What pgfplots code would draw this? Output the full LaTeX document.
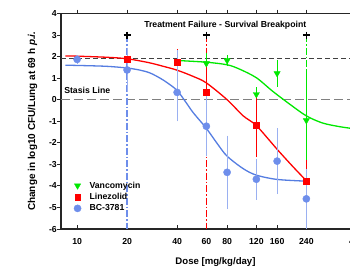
\documentclass[border=0pt]{standalone}
\usepackage{pgfplots}
\pgfplotsset{compat=1.18}
\usepackage{fontspec}
\setmainfont{Liberation Sans}
\definecolor{bcblue}{RGB}{110,142,235}
\definecolor{bcline}{RGB}{85,125,225}
\definecolor{lzred}{RGB}{255,0,0}
\definecolor{vgreen}{RGB}{0,232,0}
\newcommand{\tf}{\bfseries\fontsize{8.7}{10}\selectfont}
\begin{document}
\begin{tikzpicture}
% frame axis: outside ticks on left and top
\begin{axis}[xmode=log, scale only axis, width=309pt, height=215.5pt,
  at={(0,0)}, anchor=south west,
  xmin=8, xmax=580, ymin=-6, ymax=4,
  axis line style={line width=1.1pt, black!85},
  major tick style={line width=0.9pt, black!85},
  major tick length=4pt,
  xtick={10,20,40,60,80,120,160,240,480},
  ytick={-6,-5,-4,-3,-2,-1,0,1,2,3,4},
  tick label style={font=\tf},
  clip=false,
  tick align=outside, xtick pos=top, ytick pos=left,
  xticklabels={},
  yticklabels={-6,-5,-4,-3,-2,-1,0,1,2,3,4},
  yticklabel style={anchor=east, inner sep=0pt},
  ylabel={\bfseries\fontsize{10}{12}\selectfont Change in log10 CFU/Lung at 69 h \textit{p.i.}},
  ylabel style={at={(axis description cs:-0.0922,0.5)}, anchor=center},
]
\addplot[draw=none] coordinates {(10,0)};
\end{axis}
\begin{axis}[xmode=log, scale only axis, width=309pt, height=215.5pt,
  at={(0,0)}, anchor=south west,
  xmin=8, xmax=580, ymin=-6, ymax=4,
  axis line style={line width=1.1pt, black!85},
  major tick style={line width=0.9pt, black!85},
  major tick length=4pt,
  xtick={10,20,40,60,80,120,160,240,480},
  tick label style={font=\tf},
  clip=false,
  tick align=inside, xtick pos=bottom, ytick=\empty,
  xticklabels={10,20,40,60,80,120,160,240,480},
  xticklabel style={anchor=base, yshift=-15pt, inner sep=0pt},
  xlabel={\bfseries\fontsize{9.6}{11}\selectfont Dose [mg/kg/day]},
  xlabel style={at={(axis description cs:0.5,-0.1624)}, anchor=base},
  legend style={draw=none, fill=none, font=\tf, at={(axis description cs:0.04,0.227)}, anchor=north west, inner sep=0pt, row sep=0.6pt, nodes={inner sep=1.5pt}},
  legend cell align=left,
  legend image code/.code={\path[draw=none, fill=none] (-4pt,-3pt) (10.5pt,3pt); \draw[#1] plot coordinates {(0pt,0pt)};},
  error bars/error bar style={line width=0.9pt},
]
% reference lines
\addplot[forget plot, black!75, line width=0.9pt, dash pattern=on 5pt off 3pt] coordinates {(8,1.9) (580,1.9)};
\addplot[forget plot, black!50, line width=0.9pt, dash pattern=on 9pt off 4pt] coordinates {(8,0) (580,0)};
% breakpoint lines
\addplot[forget plot, bcblue, line width=1.2pt, dash pattern=on 7pt off 2pt on 1.5pt off 2pt] coordinates {(20,3) (20,-6)};
\addplot[forget plot, lzred, line width=1.2pt, dash pattern=on 7pt off 2pt on 1.5pt off 2pt] coordinates {(60,3) (60,-6)};
\addplot[forget plot, vgreen, line width=1.2pt, dash pattern=on 7pt off 2pt on 1.5pt off 2pt] coordinates {(240,3) (240,-6)};
\addplot[forget plot, only marks, mark=+, black, mark size=3.5pt, line width=1.4pt] coordinates {(20,3) (60,3) (240,3)};
% fitted curves
\addplot[forget plot, smooth, bcline, line width=1.3pt] coordinates {
(8.5,1.6) (10,1.59) (15,1.55) (20,1.47) (24,1.37) (27.5,1.24) (31.6,1.0) (35,0.78) (40,0.43) (45,-0.1) (50,-0.6) (60,-1.33) (70,-2.05) (80,-2.62) (100,-3.2) (120,-3.5) (160,-3.7) (240,-3.78)};
\addplot[forget plot, smooth, lzred, line width=1.3pt] coordinates {
(8.5,2.03) (10,2.02) (15,1.97) (20,1.9) (27,1.72) (33,1.55) (40,1.37) (50,1.08) (60,0.78) (80,0.0) (100,-0.75) (120,-1.2) (160,-2.3) (200,-3.12) (240,-3.76)};
\addplot[forget plot, smooth, vgreen, line width=1.3pt] coordinates {
(40,1.82) (60,1.74) (80,1.62) (95,1.42) (120,1.02) (150,0.4) (190,-0.2) (240,-0.75) (300,-1.08) (380,-1.25) (480,-1.36) (580,-1.42)};
% data
\addplot[only marks, mark=triangle*, mark options={rotate=180, fill=vgreen, draw=vgreen}, mark size=3.6pt, vgreen,
  error bars/.cd, y dir=both, y explicit, error mark options={vgreen, mark size=4pt, line width=0.9pt}]
 coordinates {(60,1.68) +- (0,0.32) (80,1.82) +- (0,0.05) (120,0.25) +- (0,0.15) (160,1.22) +- (0,0.44) (240,-0.96) +- (0,2.2)};
\addlegendentry{Vancomycin}
\addplot[only marks, mark=square*, mark size=2.8pt, lzred,
  error bars/.cd, y dir=both, y explicit, error mark options={lzred, mark size=4pt, line width=0.9pt}]
 coordinates {(20,1.87) +- (0,0.05) (40,1.73) +- (0,0.42) (60,0.36) +- (0,1.2) (120,-1.19) +- (0,1.29) (240,-3.78) +- (0,0.78)};
\addlegendentry{Linezolid}
\addplot[only marks, mark=*, mark size=3.6pt, bcblue,
  error bars/.cd, y dir=both, y explicit, error bar style={bcblue!70}, error mark options={bcblue!70, mark size=4pt, line width=0.9pt}]
 coordinates {(10,1.87) +- (0,0.02) (20,1.38) +- (0,0.82) (40,0.34) += (0,1.78) -= (0,1.16) (60,-1.23) +- (0,1.2) (80,-3.37) +- (0,1.52) (120,-3.69) +- (0,0.77) (160,-2.85) +- (0,1.35) (240,-4.6) +- (0,1.2)};
\addlegendentry{BC-3781}
\node[font=\tf, anchor=base west, inner sep=0pt] at (axis cs:8.35,0.29) {Stasis Line};
\node[font=\tf, anchor=base west, inner sep=0pt] at (axis cs:25.3,3.35) {Treatment Failure - Survival Breakpoint};
\end{axis}
\pgfresetboundingbox
\useasboundingbox (-61pt,-37pt) rectangle (289pt,229pt);
\end{tikzpicture}
\end{document}
